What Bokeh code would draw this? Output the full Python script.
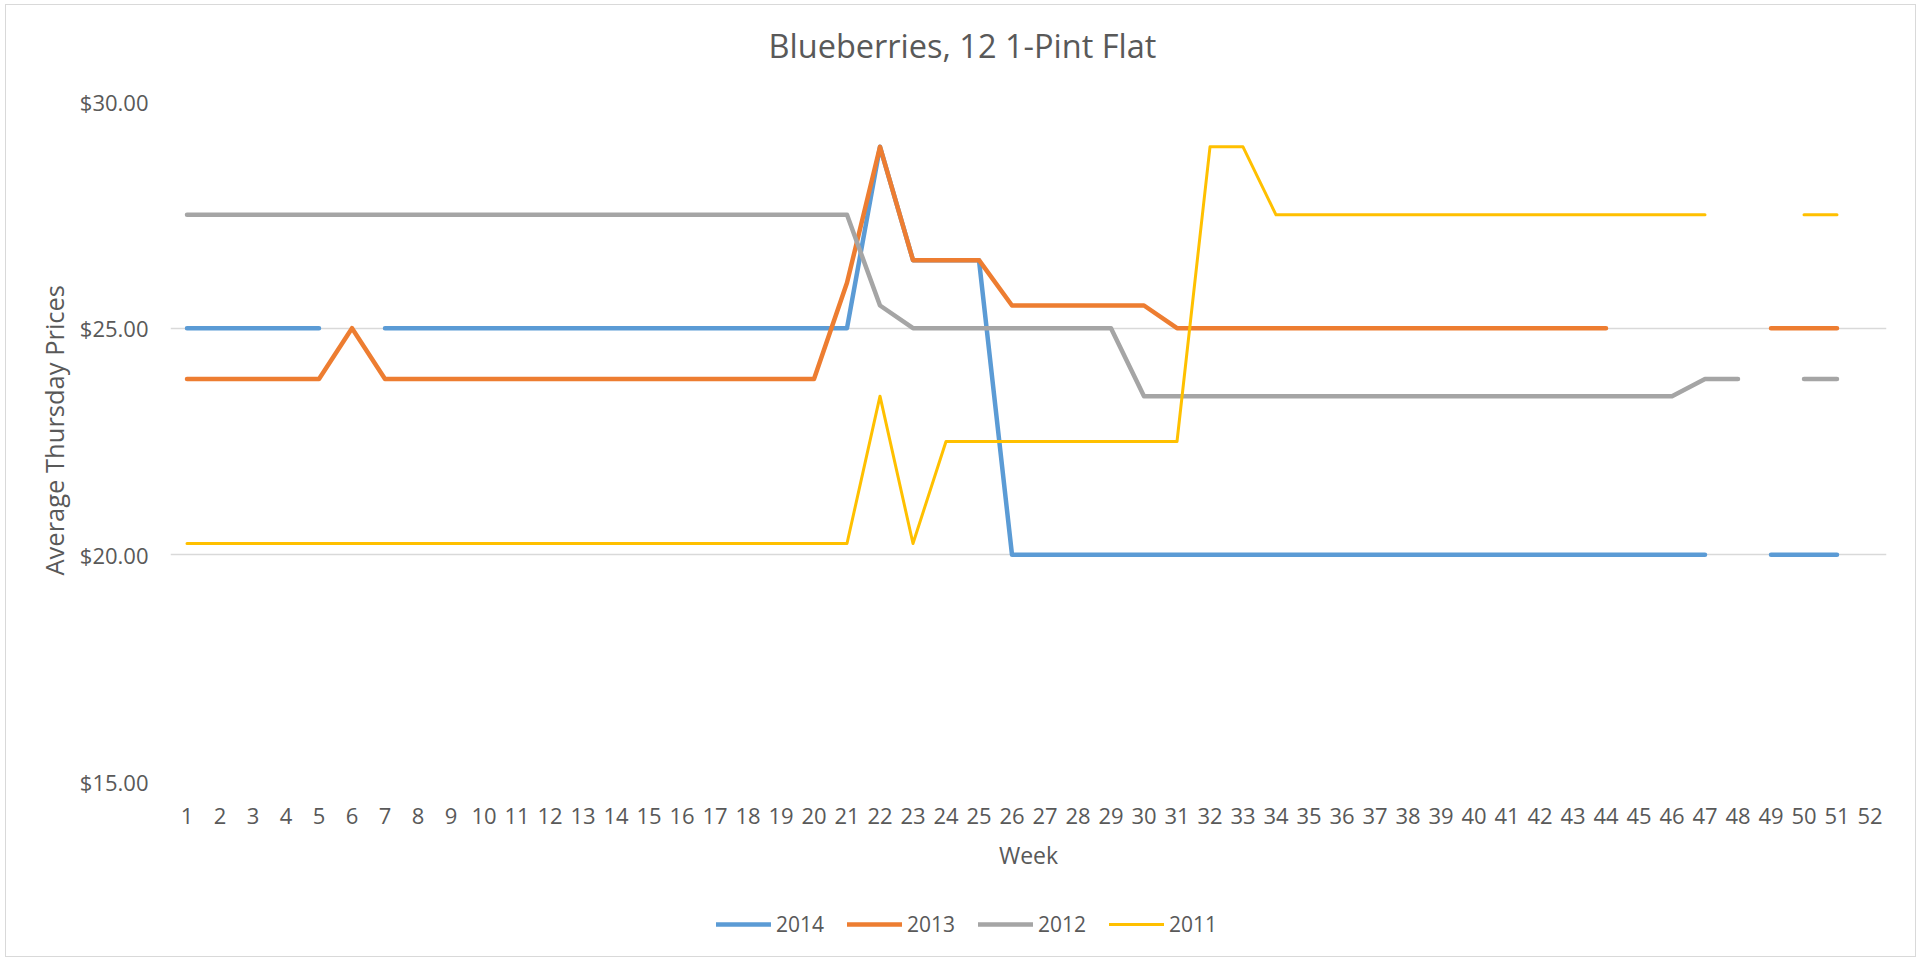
import numpy as np
from bokeh.plotting import figure
from bokeh.layouts import column
from bokeh.models import (Range1d, FixedTicker, NumeralTickFormatter, Legend,
                          LegendItem, Title, ColumnDataSource)
from bokeh.embed import file_html
from bokeh.resources import INLINE

nan = np.nan

weeks = list(range(1, 53))
week_labels = [str(w) for w in weeks]

y2014 = [25, 25, 25, 25, 25, nan, 25, 25, 25, 25,
         25, 25, 25, 25, 25, 25, 25, 25, 25, 25,
         25, 29, 26.5, 26.5, 26.5, 20, 20, 20, 20, 20,
         20, 20, 20, 20, 20, 20, 20, 20, 20, 20,
         20, 20, 20, 20, 20, 20, 20, nan, 20, 20,
         20, nan]
y2013 = [23.88, 23.88, 23.88, 23.88, 23.88, 25, 23.88, 23.88, 23.88, 23.88,
         23.88, 23.88, 23.88, 23.88, 23.88, 23.88, 23.88, 23.88, 23.88, 23.88,
         26, 29, 26.5, 26.5, 26.5, 25.5, 25.5, 25.5, 25.5, 25.5,
         25, 25, 25, 25, 25, 25, 25, 25, 25, 25,
         25, 25, 25, 25, nan, nan, nan, nan, 25, 25,
         25, nan]
y2012 = [27.5, 27.5, 27.5, 27.5, 27.5, 27.5, 27.5, 27.5, 27.5, 27.5,
         27.5, 27.5, 27.5, 27.5, 27.5, 27.5, 27.5, 27.5, 27.5, 27.5,
         27.5, 25.5, 25, 25, 25, 25, 25, 25, 25, 23.5,
         23.5, 23.5, 23.5, 23.5, 23.5, 23.5, 23.5, 23.5, 23.5, 23.5,
         23.5, 23.5, 23.5, 23.5, 23.5, 23.5, 23.88, 23.88, nan, 23.88,
         23.88, nan]
y2011 = [20.25, 20.25, 20.25, 20.25, 20.25, 20.25, 20.25, 20.25, 20.25, 20.25,
         20.25, 20.25, 20.25, 20.25, 20.25, 20.25, 20.25, 20.25, 20.25, 20.25,
         20.25, 23.5, 20.25, 22.5, 22.5, 22.5, 22.5, 22.5, 22.5, 22.5,
         22.5, 29, 29, 27.5, 27.5, 27.5, 27.5, 27.5, 27.5, 27.5,
         27.5, 27.5, 27.5, 27.5, 27.5, 27.5, 27.5, nan, nan, 27.5,
         27.5, nan]

series_names = ["2014", "2013", "2012", "2011"]
series_values = [y2014, y2013, y2012, y2011]
colors = ["#5B9BD5", "#ED7D31", "#A5A5A5", "#FFC000"]
widths = [4.5, 4.5, 4.5, 3.0]

y_ticks = [15, 20, 25, 30]

FONT = "Open Sans"
TXT = "#595959"
W = 1909

# ---------------- main chart ----------------
p = figure(width=W, height=890, output_backend="svg", toolbar_location=None,
           x_range=Range1d(0.5, 52.5), y_range=Range1d(15, 30),
           min_border_left=164, min_border_right=29, min_border_top=96,
           min_border_bottom=114)
p.outline_line_color = None
p.background_fill_color = "white"
p.border_fill_color = "white"

sources = []
for name, vals, c, w in zip(series_names, series_values, colors, widths):
    src = ColumnDataSource(dict(x=weeks, y=vals))
    sources.append(src)
    p.line("x", "y", source=src, line_color=c, line_width=w,
           line_cap="round", line_join="round")

p.xaxis.ticker = FixedTicker(ticks=weeks)
p.xaxis.major_label_overrides = {w: s for w, s in zip(weeks, week_labels)}
p.yaxis.ticker = FixedTicker(ticks=y_ticks)
p.yaxis.formatter = NumeralTickFormatter(format="$0.00")
for ax in (p.xaxis[0], p.yaxis[0]):
    ax.axis_line_color = None
    ax.major_tick_line_color = None
    ax.minor_tick_line_color = None
    ax.major_tick_out = 0
    ax.major_tick_in = 0
    ax.major_label_text_font = FONT
    ax.major_label_text_font_size = "22px"
    ax.major_label_text_color = TXT
    ax.axis_label_text_font = FONT
    ax.axis_label_text_font_style = "normal"
    ax.axis_label_text_color = TXT
p.xaxis.axis_label = "Week"
p.xaxis.axis_label_text_font_size = "23px"
p.xaxis.major_label_standoff = 26
p.yaxis.major_label_standoff = 22
p.xaxis.axis_label_standoff = 12

p.xgrid.grid_line_color = None
p.ygrid.grid_line_color = "#D9D9D9"
p.ygrid.grid_line_width = 1.3

# y-axis title (placed as a side title so it can sit like the original)
ytitle = Title(text="Average Thursday Prices", align="left", offset=206,
               vertical_align="middle", standoff=9, text_font=FONT,
               text_font_size="25.5px", text_font_style="normal",
               text_color=TXT)
p.add_layout(ytitle, "left")

# spacer between frame and title, then the chart title
spacer = Title(text=" ", text_font_size="1px", standoff=30, text_color="white")
p.add_layout(spacer, "above")
title = Title(text="Blueberries, 12 1-Pint Flat", align="left", offset=598,
              vertical_align="middle", standoff=0, text_font=FONT,
              text_font_size="32.5px", text_font_style="normal", text_color=TXT)
p.add_layout(title, "above")

# ---------------- legend strip ----------------
p2 = figure(width=W, height=61, output_backend="svg", toolbar_location=None,
            x_range=Range1d(0.5, 52.5), y_range=Range1d(100, 101),
            x_axis_location=None, y_axis_location=None,
            min_border_left=0, min_border_right=0, min_border_top=0,
            min_border_bottom=0)
p2.outline_line_color = None
p2.xgrid.visible = False
p2.ygrid.visible = False
leg_renderers = []
for src, c, w in zip(sources, colors, widths):
    r = p2.line("x", "y", source=src, line_color=c, line_width=w,
                line_cap="round", line_join="round")
    leg_renderers.append(r)

legend = Legend(items=[LegendItem(label=n, renderers=[r])
                       for n, r in zip(series_names, leg_renderers)],
                orientation="horizontal", location=(546, 18),
                glyph_width=55, glyph_height=20, label_standoff=5, spacing=23,
                padding=0, margin=0, border_line_color=None,
                background_fill_alpha=0, label_text_font=FONT,
                label_text_font_size="21px", label_text_color=TXT)
p2.add_layout(legend, "center")

layout = column(p, p2, spacing=0)
layout.styles = {"border": "1px solid #D9D9D9", "margin-left": "5px",
                 "margin-top": "4px"}

open("out.html", "w").write(file_html(layout, INLINE))
